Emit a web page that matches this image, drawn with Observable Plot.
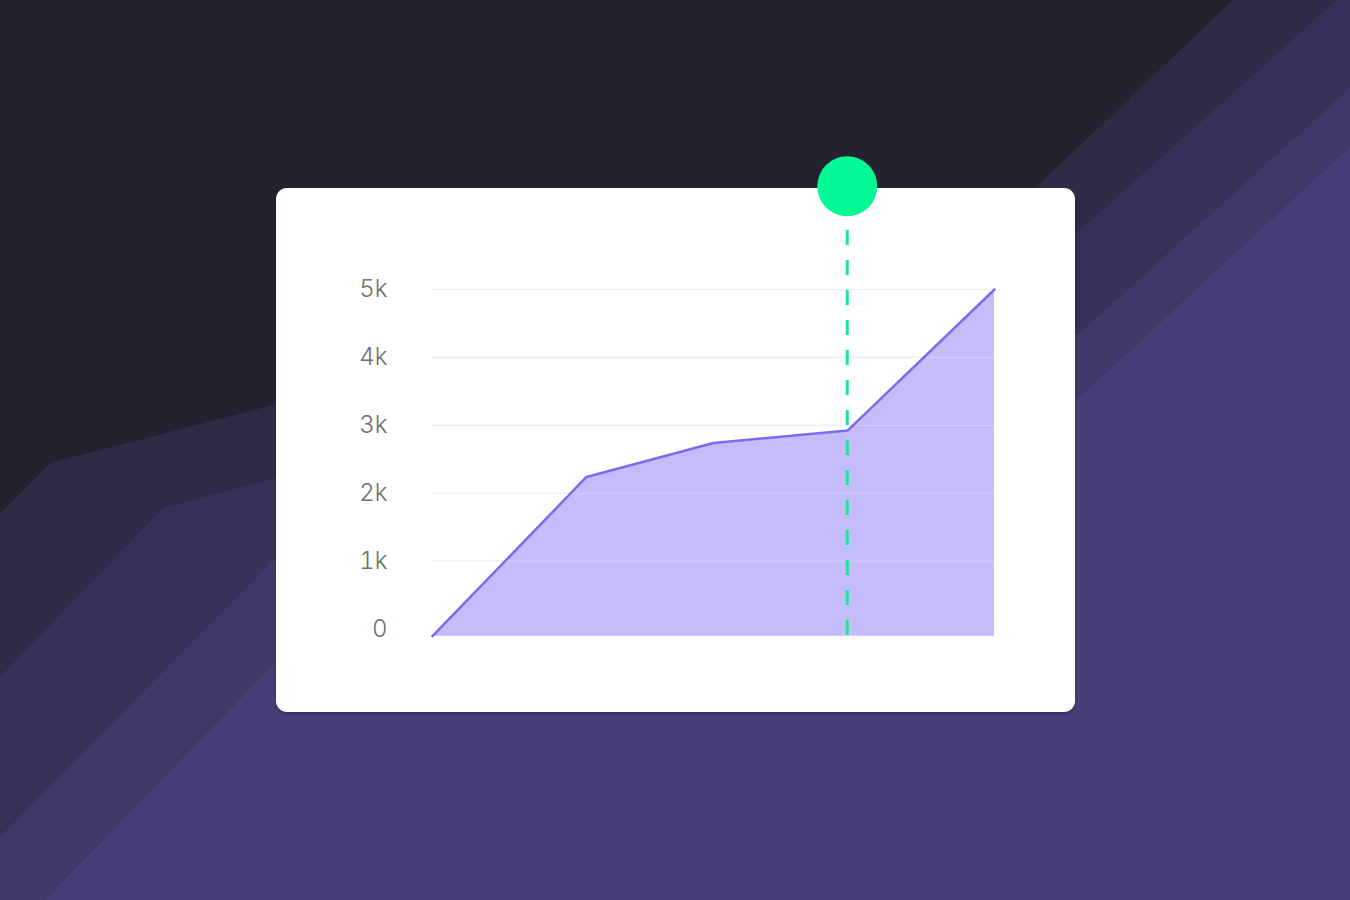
<!DOCTYPE html>
<html>
<head>
<meta charset="utf-8">
<script src="https://cdn.jsdelivr.net/npm/d3@7"></script>
<script src="https://cdn.jsdelivr.net/npm/@observablehq/plot@0.6"></script>
<style>
  html, body { margin: 0; padding: 0; }
  body { width: 1350px; height: 900px; overflow: hidden; position: relative; background: #483e7a; font-family: Inter, "Noto Sans", sans-serif; }
  #bg { position: absolute; left: 0; top: 0; }
  #card { position: absolute; left: 276px; top: 188px; width: 799px; height: 524px; background: #fff; border-radius: 11px; box-shadow: 0 2px 3px rgba(20,15,40,0.35); }
  #chart { position: absolute; left: 0; top: 0; width: 1350px; height: 900px; }
  #chart svg { overflow: visible; }
</style>
</head>
<body>
<svg id="bg" width="1350" height="900" viewBox="0 0 1350 900">
  <polygon fill="#3f3868" points="0,0 1350,0 1350,147 1080,397 273,665 45,900 0,900"/>
  <polygon fill="#37315a" points="0,0 1350,0 1350,88 1080,333 273,560 0,837"/>
  <polygon fill="#2f2a46" points="0,0 1337,0 1077,233 276,478 163,508 0,677"/>
  <polygon fill="#25222f" points="0,0 1233,0 1035,188 273,405 50,463 0,514"/>
</svg>
<div id="card"></div>
<div id="chart"></div>
<script>
// Data
const xs = [0, 27.4, 50, 73.9, 100];
const values = [-105, 2240, 2740, 2925, 5000];
const yTicks = [0, 1000, 2000, 3000, 4000, 5000];
const tickLabels = ["0", "1k", "2k", "3k", "4k", "5k"];
const gridTicks = [1000, 2000, 3000, 4000, 5000];
const baseline = -105;
const markerX = 73.8;
const markerTop = 5870;
const markerDot = 6520;

const data = xs.map((x, i) => ({x, y: values[i]}));

const chart = Plot.plot({
  width: 1350,
  height: 900,
  marginLeft: 432,
  marginRight: 356,
  marginTop: 289,
  marginBottom: 271.4,
  style: {background: "transparent", overflow: "visible", fontSize: "24px", fontWeight: 300, fontFamily: "Inter, 'Noto Sans', sans-serif", color: "#6f6f6f"},
  x: {domain: [0, 100], axis: null},
  y: {domain: [0, 5000], ticks: yTicks, tickFormat: d => tickLabels[yTicks.indexOf(d)], tickSize: 0, tickPadding: 45, label: null},
  marks: [
    Plot.ruleY(gridTicks, {stroke: "#e8e8ee", strokeWidth: 1.2}),
    Plot.areaY(data, {x: "x", y1: baseline, y2: "y", fill: "#c5bcfc"}),
    Plot.ruleY(gridTicks, {stroke: "#ffffff", strokeOpacity: 0.25, strokeWidth: 1.2}),
    Plot.lineY(data, {x: "x", y: "y", stroke: "#7d6bef", strokeWidth: 2.5}),
    Plot.ruleX([markerX], {x: d => d, y1: markerTop, y2: baseline, stroke: "#1fe39c", strokeWidth: 3, strokeDasharray: "15,15"}),
    Plot.dot([markerX], {x: d => d, y: markerDot, r: 30, fill: "#03f896"})
  ]
});
document.getElementById("chart").appendChild(chart);
</script>
</body>
</html>
